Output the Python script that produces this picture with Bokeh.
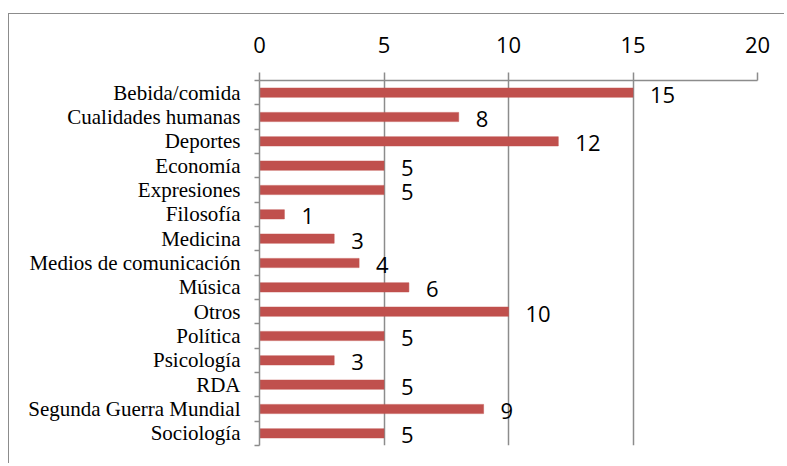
from bokeh.plotting import figure
from bokeh.models import Range1d, FixedTicker, LinearAxis, ColumnDataSource
from bokeh.core.properties import value
from bokeh.embed import file_html
from bokeh.resources import INLINE

categories = ["Bebida/comida", "Cualidades humanas", "Deportes", "Economía", "Expresiones",
              "Filosofía", "Medicina", "Medios de comunicación", "Música", "Otros",
              "Política", "Psicología", "RDA", "Segunda Guerra Mundial", "Sociología"]
counts = [15, 8, 12, 5, 5, 1, 3, 4, 6, 10, 5, 3, 5, 9, 5]
x_ticks = [0, 5, 10, 15, 20]

idx = list(range(len(categories)))
src = ColumnDataSource(dict(y=idx, v=counts, lab=[str(c) for c in counts], cat=categories))

GRAY = "#8c8c8c"

p = figure(width=776, height=450, output_backend="svg", toolbar_location=None,
           x_range=Range1d(0, 20), y_range=Range1d(len(categories) - 0.5, -0.5),
           x_axis_location="above", y_axis_type=None,
           min_border_left=250, min_border_right=28, min_border_top=66, min_border_bottom=19)
p.outline_line_color = None
p.background_fill_color = "white"
p.border_fill_color = "white"
p.styles = {"margin-left": "8px", "margin-top": "13px",
            "border-left": "1.5px solid #8c8c8c", "border-top": "1.5px solid #8c8c8c"}

# x axis (top)
xa = p.xaxis[0]
xa.ticker = FixedTicker(ticks=x_ticks)
xa.major_tick_out = 8
xa.major_tick_in = 0
xa.minor_tick_line_color = None
xa.axis_line_color = GRAY
xa.major_tick_line_color = GRAY
xa.axis_line_width = 1.5
xa.major_tick_line_width = 1.5
xa.major_label_text_font = "Open Sans"
xa.major_label_text_font_size = "22px"
xa.major_label_text_color = "black"
xa.major_label_standoff = 20

p.xgrid.ticker = FixedTicker(ticks=x_ticks)
p.xgrid.grid_line_color = GRAY
p.xgrid.grid_line_width = 1.5
p.ygrid.visible = False

# y axis (categories)
ya = LinearAxis(ticker=FixedTicker(ticks=idx, minor_ticks=[i - 0.5 for i in range(len(categories) + 1)]))
ya.major_label_overrides = {i: c for i, c in zip(idx, categories)}
ya.major_tick_line_color = None
ya.major_tick_out = 0
ya.major_tick_in = 0
ya.minor_tick_out = 5
ya.minor_tick_in = 0
ya.minor_tick_line_color = GRAY
ya.minor_tick_line_width = 1.5
ya.axis_line_color = GRAY
ya.axis_line_width = 1.5
ya.major_label_text_font = "Liberation Serif"
ya.major_label_text_font_size = "21px"
ya.major_label_text_color = "black"
ya.major_label_standoff = 14
p.add_layout(ya, "left")

p.hbar(y="y", right="v", left=0, height=0.38, source=src,
       fill_color="#C0504D", line_color="#C0504D", line_width=0.5)

p.text(x="v", y="y", text="lab", source=src, x_offset=17, y_offset=2,
       text_baseline="middle", text_align="left",
       text_font=value("Open Sans"), text_font_size="22px", text_color="black")

open("out.html", "w").write(file_html(p, INLINE))
